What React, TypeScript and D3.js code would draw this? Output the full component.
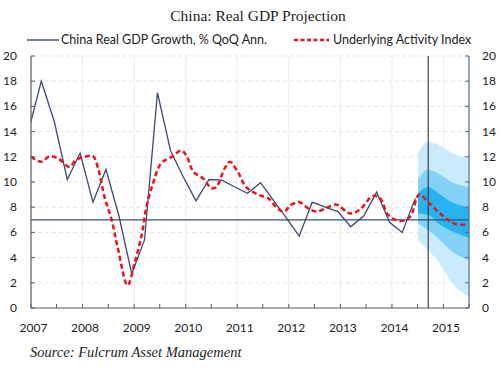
import React from 'react';
import * as d3 from 'd3';

// China real GDP growth, % QoQ annualised (quarter, value)
const gdpQuarters = [
  '2006Q4', '2007Q1', '2007Q2', '2007Q3', '2007Q4',
  '2008Q1', '2008Q2', '2008Q3', '2008Q4',
  '2009Q1', '2009Q2', '2009Q3', '2009Q4',
  '2010Q1', '2010Q2', '2010Q3', '2010Q4',
  '2011Q1', '2011Q2', '2011Q3', '2011Q4',
  '2012Q1', '2012Q2', '2012Q3', '2012Q4',
  '2013Q1', '2013Q2', '2013Q3', '2013Q4',
  '2014Q1', '2014Q2',
];
const gdpValues = [
  14.1, 18.0, 14.8, 10.2, 12.3,
  8.4, 11.0, 7.3, 2.7,
  5.4, 17.1, 12.5, 10.4,
  8.5, 10.2, 10.15, 9.6,
  9.1, 9.95, 8.55, 7.15,
  5.7, 8.4, 8.0, 7.65,
  6.45, 7.3, 9.2, 6.8,
  6.0, 8.7,
];

// Underlying activity index (date, value)
const uaiDates = [
  '2007-01-01', '2007-03-15', '2007-05-15', '2007-07-15', '2007-10-01', '2007-11-15',
  '2008-01-15', '2008-03-15', '2008-04-20', '2008-06-05', '2008-07-25', '2008-09-10', '2008-11-15',
  '2009-01-05', '2009-02-25', '2009-03-28', '2009-05-15', '2009-07-12', '2009-09-25', '2009-12-03',
  '2010-01-10', '2010-02-25', '2010-05-03', '2010-07-03', '2010-08-05', '2010-10-05', '2010-11-10',
  '2011-01-10', '2011-03-05', '2011-05-28', '2011-08-10', '2011-10-05', '2011-11-25',
  '2012-01-20', '2012-03-18', '2012-05-18', '2012-07-15', '2012-10-05', '2012-12-05',
  '2013-03-10', '2013-05-18', '2013-08-20', '2013-10-10', '2013-12-05',
  '2014-02-28', '2014-05-10', '2014-07-12', '2014-09-15', '2014-12-18',
  '2015-03-20', '2015-06-25',
];
const uaiValues = [
  12.0, 11.6, 12.05, 11.85, 11.2, 11.75,
  12.0, 12.05, 11.1, 8.8, 7.0, 4.6, 1.8,
  3.6, 5.9, 8.0, 9.9, 11.5, 12.0, 12.5,
  12.0, 10.8, 10.3, 9.5, 9.6, 11.1, 11.6,
  10.7, 9.6, 9.0, 8.7, 8.0, 7.65,
  8.2, 8.4, 7.9, 7.65, 8.0, 8.2,
  7.5, 7.8, 8.9, 8.7, 7.4,
  6.9, 7.25, 9.0, 8.4, 7.4,
  6.7, 6.6,
];

// Projection fan (date, bands)
const fanDates = ['2014-07-05', '2014-09-13', '2014-12-08', '2015-03-01', '2015-07-01'];
const fanOuterHi = [12.3, 13.2, 12.9, 12.3, 11.9];
const fanOuterLo = [5.4, 4.6, 3.5, 2.0, 0.9];
const fanMidHi = [10.2, 11.0, 10.6, 10.0, 9.6];
const fanMidLo = [6.7, 6.2, 5.4, 4.5, 3.8];
const fanInnerHi = [9.1, 9.6, 9.0, 8.4, 8.0];
const fanInnerLo = [7.5, 7.4, 6.6, 6.1, 5.6];

const yTicks = [0, 2, 4, 6, 8, 10, 12, 14, 16, 18, 20];
const yearLabels = ['2007', '2008', '2009', '2010', '2011', '2012', '2013', '2014', '2015'];
const trendLevel = 7;
const forecastStart = '2014-09-15';

const W = 500;
const H = 369;
const M = { left: 31, right: 469, top: 56, bottom: 308 };
const FONT = 'Lato, "Open Sans", sans-serif';

const parse = d3.timeParse('%Y-%m-%d');
const quarterDate = (q: string) => {
  const year = +q.slice(0, 4);
  const n = +q.slice(5);
  return new Date(year, n * 3 - 1, 15);
};

export default function App() {
  const x = d3.scaleTime()
    .domain([new Date(2007, 0, 1), new Date(2015, 6, 1)])
    .range([M.left, M.right]);
  const y = d3.scaleLinear().domain([0, 20]).range([M.bottom, M.top]);

  const gdp = gdpQuarters.map((q, i) => ({ d: quarterDate(q), v: gdpValues[i] }));
  const uai = uaiDates.map((s, i) => ({ d: parse(s) as Date, v: uaiValues[i] }));
  const fan = fanDates.map((s, i) => ({
    d: parse(s) as Date,
    oh: fanOuterHi[i], ol: fanOuterLo[i],
    mh: fanMidHi[i], ml: fanMidLo[i],
    ih: fanInnerHi[i], il: fanInnerLo[i],
  }));

  const gdpLine = d3.line<{ d: Date; v: number }>()
    .x(p => x(p.d)).y(p => y(p.v));
  const uaiLine = d3.line<{ d: Date; v: number }>()
    .x(p => x(p.d)).y(p => y(p.v))
    .curve(d3.curveCatmullRom.alpha(0.5));

  const band = (hi: string, lo: string) => d3.area<any>()
    .x(p => x(p.d)).y0(p => y(p[lo])).y1(p => y(p[hi]))
    .curve(d3.curveMonotoneX)(fan) as string;

  const halfYears = d3.timeMonth.every(6)!.range(new Date(2007, 0, 1), new Date(2015, 6, 2));
  const years = d3.timeYear.range(new Date(2008, 0, 1), new Date(2015, 1, 1));
  const xf = x(parse(forecastStart) as Date);

  return (
    <div style={{ position: 'fixed', left: 0, top: 0, width: W, height: H, background: '#fff' }}>
      <svg width={W} height={H} style={{ display: 'block' }}>
        <defs>
          <clipPath id="plot">
            <rect x={M.left} y={M.top} width={M.right - M.left} height={M.bottom - M.top} />
          </clipPath>
        </defs>

        <text x={258} y={21} textAnchor="middle" fontFamily='"Liberation Serif", serif'
          fontSize={15.5} fill="#222">China: Real GDP Projection</text>

        {/* legend */}
        <line x1={27} x2={59} y1={40} y2={40} stroke="#2c3e66" strokeWidth={1.3} />
        <text x={61} y={44} fontFamily={FONT} fontSize={12.5} fill="#222">China Real GDP Growth, % QoQ Ann.</text>
        <line x1={294} x2={329} y1={40} y2={40} stroke="#e8141c" strokeWidth={2.3} strokeDasharray="4,2.5" />
        <text x={333} y={44} fontFamily={FONT} fontSize={12.5} fill="#222">Underlying Activity Index</text>

        {/* grid */}
        {yTicks.filter(t => t > 0).map(t => (
          <line key={'h' + t} x1={M.left} x2={M.right} y1={y(t)} y2={y(t)}
            stroke="#dcdcdc" strokeWidth={0.8} strokeDasharray="4,3" />
        ))}
        {years.map(d => (
          <line key={'v' + d.getFullYear()} x1={x(d)} x2={x(d)} y1={M.top} y2={M.bottom}
            stroke="#e6e6e6" strokeWidth={0.8} />
        ))}

        {/* fan */}
        <g clipPath="url(#plot)">
          <path d={band('oh', 'ol')} fill="#c9ebfb" />
          <path d={band('mh', 'ml')} fill="#82d1f6" />
          <path d={band('ih', 'il')} fill="#27b3ee" />
        </g>

        <line x1={M.left} x2={M.right} y1={y(trendLevel)} y2={y(trendLevel)} stroke="#30507e" strokeWidth={1.3} />
        <line x1={xf} x2={xf} y1={M.top} y2={M.bottom} stroke="#333" strokeWidth={1.1} />

        <g clipPath="url(#plot)">
          <path d={gdpLine(gdp) as string} fill="none" stroke="#3a4b72" strokeWidth={1.3} strokeLinejoin="miter" />
          <path d={uaiLine(uai) as string} fill="none" stroke="#e8141c" strokeWidth={2.5} strokeDasharray="5,3" />
        </g>

        {/* axes */}
        <line x1={M.left} x2={M.left} y1={M.top} y2={M.bottom} stroke="#595959" strokeWidth={1.2} />
        <line x1={M.right} x2={M.right} y1={M.top} y2={M.bottom} stroke="#4a6a9a" strokeWidth={1.2} />
        <line x1={M.left} x2={M.right} y1={M.bottom} y2={M.bottom} stroke="#595959" strokeWidth={1.2} />
        {yTicks.map(t => (
          <g key={'yt' + t}>
            <line x1={M.left} x2={M.left + 4} y1={y(t)} y2={y(t)} stroke="#595959" />
            <line x1={M.right - 4} x2={M.right} y1={y(t)} y2={y(t)} stroke="#4a6a9a" />
            <text x={17} y={y(t) + 4} textAnchor="end" fontFamily={FONT} fontSize={12} fill="#222">{t}</text>
            <text x={482} y={y(t) + 4} fontFamily={FONT} fontSize={12} fill="#222">{t}</text>
          </g>
        ))}
        {halfYears.map(d => (
          <line key={'xt' + d.getTime()} x1={x(d)} x2={x(d)} y1={M.bottom} y2={M.bottom - 4} stroke="#595959" />
        ))}
        {yearLabels.map(s => (
          <text key={'yl' + s} x={x(new Date(+s, 0, 1)) + 2.5} y={332} textAnchor="middle"
            fontFamily={FONT} fontSize={12} fill="#222">{s}</text>
        ))}

        <text x={30} y={357} fontFamily='"Liberation Serif", serif' fontStyle="italic"
          fontSize={14.5} fill="#222">Source: Fulcrum Asset Management</text>
      </svg>
    </div>
  );
}
